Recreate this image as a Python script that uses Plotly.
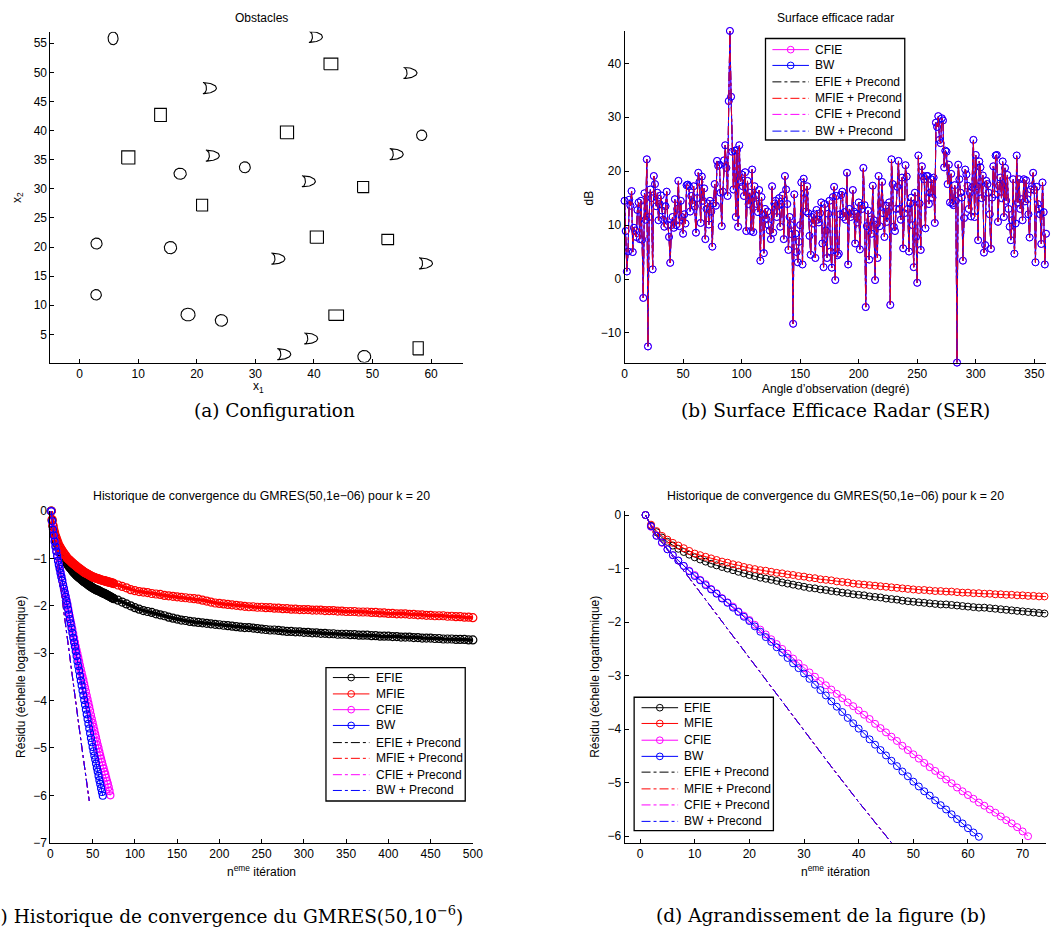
import numpy as np
import plotly.graph_objects as go

W, H = 1056, 940
def PX(x): return x / W
def PY(y): return 1 - y / H

FONT = "Liberation Sans"
CAPFONT = "DejaVu Serif"

# ---------------- (a) Obstacles ----------------
circ_x = [5.7, 58.4, 17.15, 28.2, 2.87, 15.5, 2.8, 18.5, 24.2, 48.6]
circ_y = [55.85, 39.2, 32.6, 33.7, 20.6, 19.9, 11.8, 8.4, 7.4, 1.2]
circ_rx = [0.85, 0.87, 1.05, 0.93, 0.95, 1.05, 0.9, 1.2, 1.05, 1.1]
circ_ry = [1.1, 0.9, 0.95, 0.95, 0.95, 1.05, 0.9, 1.1, 1.0, 1.05]

sq_x = [42.9, 13.8, 35.4, 8.3, 48.4, 20.9, 40.5, 52.6, 43.8, 57.8]
sq_y = [51.45, 42.7, 39.7, 35.4, 30.3, 27.2, 21.7, 21.3, 8.3, 2.6]
sq_w = [2.36, 2.0, 2.25, 2.25, 1.9, 1.9, 2.25, 2.0, 2.5, 1.75]
sq_h = [2.0, 2.25, 2.2, 2.25, 1.9, 2.0, 2.1, 1.75, 1.8, 2.25]

kite_x = [40.3, 56.45, 22.2, 22.7, 54.1, 39.1, 33.9, 59.1, 39.5, 34.9]
kite_y = [56.1, 49.9, 47.3, 35.7, 35.95, 31.3, 18.0, 17.2, 4.3, 1.6]

# ---------------- (b) SER ----------------
ser_deg = list(range(0, 361))
ser_db = [
    14.5, 8.9, 1.4, 5.1, 14.7, 13.6, 16.3, 5.0, 9.5, 9.0,
    7.8, 12.8, 14.2, 7.4, 14.5, 7.3, -3.5, 15.9, 11.0, 22.2,
    -12.5, 11.5, 16.6, 15.0, 1.8, 19.1, 17.6, 13.5, 16.0, 10.9,
    13.9, 15.5, 12.7, 11.0, 9.7, 13.5, 16.2, 10.0, 7.8, 3.0,
    10.0, 11.5, 9.5, 14.8, 10.0, 13.0, 18.2, 9.8, 14.5, 11.5,
    8.4, 12.0, 10.3, 17.4, 17.5, 17.2, 12.5, 15.4, 14.0, 17.2,
    13.5, 8.6, 15.0, 19.7, 18.0, 10.4, 19.0, 14.5, 16.8, 7.4,
    13.0, 14.0, 10.1, 14.5, 12.5, 6.0, 14.0, 17.6, 13.6, 21.9,
    21.0, 21.2, 16.0, 9.8, 16.2, 22.0, 24.8, 20.6, 15.4, 33.0,
    46.0, 33.8, 23.6, 16.6, 23.8, 11.5, 23.9, 9.7, 24.8, 18.0,
    19.4, 17.2, 15.4, 19.8, 8.9, 18.2, 13.9, 16.0, 8.9, 20.3,
    8.7, 17.2, 15.5, 13.9, 12.4, 16.5, 3.4, 15.2, 12.0, 4.8,
    13.0, 11.2, 12.5, 10.0, 9.0, 7.4, 17.2, 8.6, 14.0, 14.5,
    11.5, 13.6, 15.0, 9.7, 13.9, 15.5, 7.4, 19.1, 16.6, 13.9,
    5.4, 11.5, 10.0, 8.3, -8.3, 15.7, 8.4, 5.0, 3.1, 6.9,
    10.0, 17.9, 2.7, 18.6, 15.9, 12.5, 17.2, 12.2, 8.0, 4.5,
    11.5, 10.3, 12.0, 3.9, 12.8, 11.0, 10.5, 12.2, 14.2, 6.6,
    2.2, 13.9, 9.0, 3.9, 12.1, 14.5, 5.1, 2.1, 15.2, 17.1,
    -0.2, 15.4, 4.4, 4.7, 12.0, 15.6, 16.2, 11.5, 12.4, 11.0,
    19.7, 2.7, 13.0, 11.5, 12.1, 16.5, 12.5, 6.6, 12.1, 10.5,
    14.2, 5.5, 13.6, 13.0, 20.6, 13.7, -5.2, 9.8, 12.7, 3.6,
    11.0, 8.4, 17.3, 10.9, -0.2, 10.1, 3.9, 19.1, 9.8, 14.0,
    18.0, 12.2, 7.8, 13.6, 10.6, 12.5, 14.2, -4.8, 22.2, 17.6,
    9.7, 8.9, 13.0, 17.1, 21.9, 13.0, 11.0, 18.8, 5.7, 12.2,
    21.1, 19.0, 13.0, 5.1, 14.0, 15.1, 10.0, 2.2, 16.0, 7.8,
    -0.7, 22.9, 14.0, 5.4, 20.9, 19.1, 18.5, 9.4, 19.1, 19.1,
    13.9, 16.0, 18.5, 15.1, 18.8, 10.4, 29.0, 28.2, 30.2, 25.8,
    25.2, 29.8, 29.4, 20.7, 23.8, 23.6, 17.6, 21.2, 14.2, 19.5,
    14.0, 13.7, 17.4, 14.5, -15.5, 21.2, 18.5, 16.0, 15.1, 3.4,
    11.3, 20.3, 19.4, 17.3, 13.0, 16.0, 11.6, 17.0, 25.8, 11.5,
    23.0, 17.2, 7.2, 21.8, 20.7, 15.0, 19.2, 4.9, 6.3, 18.2,
    17.6, 16.0, 12.0, 5.6, 15.1, 20.9, 15.7, 22.9, 23.0, 10.6,
    17.3, 18.8, 15.0, 21.8, 11.5, 20.6, 14.5, 19.3, 13.0, 9.7,
    7.2, 10.9, 18.5, 4.7, 10.3, 22.9, 14.2, 18.5, 13.0, 14.8,
    10.9, 18.5, 14.4, 18.3, 14.8, 12.0, 7.7, 16.6, 17.2, 19.7,
    16.5, 3.1, 17.1, 13.9, 13.0, 12.0, 6.5, 17.9, 12.4, 2.7,
    8.4,
]

# ---------------- (c)/(d) GMRES convergence ----------------
iter_long = list(range(1, 76)) + list(range(80, 501, 5))
res_efie = [
    0, -0.20, -0.32, -0.42, -0.50, -0.57, -0.63, -0.69, -0.74, -0.79,
    -0.83, -0.87, -0.91, -0.94, -0.97, -1.00, -1.03, -1.06, -1.09, -1.12,
    -1.14, -1.17, -1.19, -1.21, -1.23, -1.26, -1.28, -1.30, -1.32, -1.34,
    -1.36, -1.37, -1.39, -1.40, -1.42, -1.43, -1.45, -1.46, -1.48, -1.49,
    -1.50, -1.52, -1.53, -1.54, -1.56, -1.57, -1.58, -1.60, -1.61, -1.62,
    -1.63, -1.64, -1.65, -1.66, -1.67, -1.67, -1.68, -1.69, -1.70, -1.71,
    -1.72, -1.73, -1.73, -1.74, -1.75, -1.76, -1.77, -1.78, -1.79, -1.80,
    -1.81, -1.82, -1.83, -1.84, -1.85,
    -1.88, -1.92, -1.96, -2.00, -2.04, -2.07, -2.10, -2.12, -2.14, -2.17,
    -2.19, -2.21, -2.24, -2.26, -2.28, -2.30, -2.31, -2.33, -2.34, -2.35,
    -2.36, -2.37, -2.38, -2.39, -2.40, -2.41, -2.42, -2.43, -2.44, -2.45,
    -2.46, -2.46, -2.47, -2.48, -2.49, -2.50, -2.51, -2.51, -2.52, -2.53,
    -2.54, -2.54, -2.55, -2.55, -2.56, -2.56, -2.57, -2.57, -2.58, -2.58,
    -2.59, -2.59, -2.60, -2.60, -2.60, -2.61, -2.61, -2.62, -2.62, -2.62,
    -2.63, -2.63, -2.64, -2.64, -2.64, -2.65, -2.65, -2.66, -2.66, -2.66,
    -2.67, -2.67, -2.68, -2.68, -2.68, -2.69, -2.69, -2.70, -2.70, -2.70,
    -2.71, -2.71, -2.71, -2.72, -2.72,
]
res_mfie = [
    0, -0.18, -0.30, -0.39, -0.46, -0.52, -0.57, -0.62, -0.67, -0.72,
    -0.75, -0.78, -0.81, -0.84, -0.87, -0.89, -0.92, -0.94, -0.97, -0.99,
    -1.01, -1.03, -1.04, -1.06, -1.08, -1.09, -1.11, -1.12, -1.14, -1.15,
    -1.17, -1.18, -1.20, -1.21, -1.22, -1.24, -1.25, -1.26, -1.28, -1.29,
    -1.30, -1.31, -1.32, -1.33, -1.34, -1.35, -1.36, -1.37, -1.38, -1.39,
    -1.40, -1.40, -1.41, -1.42, -1.42, -1.43, -1.43, -1.44, -1.45, -1.45,
    -1.46, -1.46, -1.47, -1.47, -1.48, -1.48, -1.49, -1.49, -1.50, -1.50,
    -1.51, -1.51, -1.52, -1.52, -1.53,
    -1.56, -1.59, -1.62, -1.66, -1.68, -1.70, -1.71, -1.72, -1.74, -1.75,
    -1.76, -1.78, -1.79, -1.80, -1.81, -1.82, -1.83, -1.84, -1.85, -1.86,
    -1.88, -1.90, -1.92, -1.94, -1.95, -1.96, -1.97, -1.98, -1.99, -2.00,
    -2.01, -2.02, -2.02, -2.03, -2.03, -2.04, -2.04, -2.05, -2.05, -2.06,
    -2.06, -2.07, -2.07, -2.08, -2.08, -2.08, -2.09, -2.09, -2.09, -2.10,
    -2.10, -2.10, -2.11, -2.11, -2.12, -2.12, -2.12, -2.13, -2.13, -2.13,
    -2.14, -2.14, -2.15, -2.15, -2.16, -2.16, -2.17, -2.17, -2.17, -2.18,
    -2.18, -2.19, -2.19, -2.20, -2.20, -2.21, -2.21, -2.21, -2.22, -2.22,
    -2.23, -2.23, -2.24, -2.24, -2.25,
]
iter_cfie = list(range(1, 72))
res_cfie = [
    0, -0.22, -0.38, -0.52, -0.64, -0.75, -0.85, -0.95, -1.04, -1.12,
    -1.21, -1.29, -1.38, -1.46, -1.55, -1.63, -1.71, -1.80, -1.88, -1.96,
    -2.05, -2.14, -2.23, -2.32, -2.41, -2.50, -2.59, -2.68, -2.77, -2.86,
    -2.94, -3.02, -3.10, -3.18, -3.26, -3.34, -3.42, -3.50, -3.57, -3.65,
    -3.73, -3.81, -3.90, -3.98, -4.06, -4.14, -4.22, -4.31, -4.39, -4.47,
    -4.55, -4.63, -4.71, -4.78, -4.86, -4.94, -5.01, -5.09, -5.16, -5.23,
    -5.30, -5.37, -5.43, -5.50, -5.56, -5.63, -5.70, -5.76, -5.83, -5.91,
    -6.00,
]
iter_bw = list(range(1, 63))
res_bw = [
    0, -0.21, -0.39, -0.51, -0.64, -0.75, -0.85, -0.95, -1.05, -1.14,
    -1.22, -1.31, -1.39, -1.47, -1.56, -1.64, -1.73, -1.81, -1.90, -1.98,
    -2.08, -2.18, -2.28, -2.37, -2.47, -2.57, -2.67, -2.77, -2.86, -2.96,
    -3.06, -3.17, -3.27, -3.37, -3.48, -3.58, -3.68, -3.79, -3.89, -3.99,
    -4.09, -4.19, -4.29, -4.39, -4.49, -4.59, -4.69, -4.79, -4.88, -4.98,
    -5.07, -5.16, -5.24, -5.33, -5.42, -5.50, -5.59, -5.68, -5.76, -5.85,
    -5.93, -6.01,
]
iter_prec = [1, 2, 3, 4, 5, 6, 7, 8, 10, 15, 20, 25, 30, 35, 40, 45, 46]
res_prec = [0, -0.21, -0.38, -0.52, -0.65, -0.78, -0.91, -1.04, -1.31,
            -1.99, -2.67, -3.35, -4.03, -4.70, -5.36, -6.00, -6.12]

BLACK, RED, MAG, BLUE = "#000000", "#ff0000", "#ff00ff", "#0000ff"

fig = go.Figure()

# ---- obstacle outlines (geometry templates placed at data centres)
t = np.linspace(0, 2 * np.pi, 73)
cx_all, cy_all = [], []
for x, y, rx, ry in zip(circ_x, circ_y, circ_rx, circ_ry):
    cx_all += list(x + rx * np.cos(t)) + [None]
    cy_all += list(y + ry * np.sin(t)) + [None]
sx_all, sy_all = [], []
for x, y, w, h in zip(sq_x, sq_y, sq_w, sq_h):
    sx_all += [x - w / 2, x + w / 2, x + w / 2, x - w / 2, x - w / 2, None]
    sy_all += [y - h / 2, y - h / 2, y + h / 2, y + h / 2, y - h / 2, None]
# crescent-like "D" outline: rounded right side, concave notch on the left
v = np.linspace(np.pi / 2, -np.pi / 2, 40)
u = np.linspace(-np.pi / 2, np.pi / 2, 25)
kx_t = np.concatenate([2.0 * (-0.5 + 1.15 * np.cos(v)), 2.0 * (-0.5 + 0.3 * np.cos(u))]) - 0.15
ky_t = np.concatenate([0.95 * np.sin(v), 0.95 * np.sin(u)])
kx_all, ky_all = [], []
for x, y in zip(kite_x, kite_y):
    kx_all += list(x + kx_t) + [None]
    ky_all += list(y + ky_t) + [None]
for xs, ys in [(cx_all, cy_all), (sx_all, sy_all), (kx_all, ky_all)]:
    fig.add_trace(go.Scatter(x=xs, y=ys, mode="lines", xaxis="x", yaxis="y",
                             line=dict(color=BLACK, width=1.1), showlegend=False,
                             hoverinfo="skip"))

# ---- (b) SER
def ser_trace(color, marker, dash, width=1.0):
    return go.Scatter(
        x=ser_deg, y=ser_db, xaxis="x2", yaxis="y2",
        mode="lines+markers" if marker else "lines",
        line=dict(color=color, width=width, dash=dash),
        marker=dict(symbol="circle-open", size=7, color=color, line=dict(width=1)),
        cliponaxis=False, showlegend=False)
fig.add_trace(ser_trace(MAG, True, "solid"))
fig.add_trace(ser_trace(BLUE, True, "solid"))
fig.add_trace(ser_trace(BLACK, False, "dashdot", 0.8))
fig.add_trace(ser_trace(MAG, False, "dashdot", 0.8))
fig.add_trace(ser_trace(BLUE, False, "dashdot", 0.8))
fig.add_trace(ser_trace(RED, False, "dashdot", 0.8))

# ---- (c) and (d)
for xa, ya, panel in [("x3", "y3", "c"), ("x4", "y4", "d")]:
    for xs, ys, col, thick in [(iter_long, res_efie, BLACK, True), (iter_long, res_mfie, RED, True),
                               (iter_cfie, res_cfie, MAG, False), (iter_bw, res_bw, BLUE, False)]:
        lw = 3.5 if (panel == "c" and thick) else 1
        ms = 8 if (panel == "c" and thick) else 7
        fig.add_trace(go.Scatter(
            x=xs, y=ys, xaxis=xa, yaxis=ya, mode="lines+markers",
            line=dict(color=col, width=lw),
            marker=dict(symbol="circle-open", size=ms, color=col, line=dict(width=1.2 if panel == "c" else 1)),
            cliponaxis=False, showlegend=False))
    for col in [BLACK, RED, MAG, BLUE]:
        fig.add_trace(go.Scatter(
            x=iter_prec, y=res_prec, xaxis=xa, yaxis=ya, mode="lines",
            line=dict(color=col, width=1, dash="dashdot"), showlegend=False))

axis_common = dict(showline=True, linecolor=BLACK, linewidth=1, mirror=False,
                   ticks="inside", ticklen=4, tickwidth=1, tickcolor=BLACK,
                   showgrid=False, zeroline=False,
                   tickfont=dict(family=FONT, size=12, color=BLACK))

fig.update_layout(
    width=W, height=H, autosize=False,
    margin=dict(l=0, r=0, t=0, b=0),
    paper_bgcolor="white", plot_bgcolor="white",
    showlegend=False,
    xaxis=dict(domain=[PX(48), PX(466)], range=[-5, 65.5], tickvals=list(range(0, 61, 10)),
               anchor="y", **axis_common),
    yaxis=dict(domain=[PY(361), PY(25)], range=[0.15, 57], tickvals=list(range(5, 56, 5)),
               anchor="x", **axis_common),
    xaxis2=dict(domain=[PX(629.3), 1.0], range=[0, 360], tickvals=list(range(0, 351, 50)),
                anchor="y2", **axis_common),
    yaxis2=dict(domain=[PY(361), PY(24.3)], range=[-15.5, 46], tickvals=list(range(-10, 41, 10)),
                anchor="x2", **axis_common),
    xaxis3=dict(domain=[PX(48), PX(475.7)], range=[0, 500], tickvals=list(range(0, 501, 50)),
                anchor="y3", **axis_common),
    yaxis3=dict(domain=[PY(848.3), PY(511.7)], range=[-7, 0], tickvals=list(range(-7, 1)),
                anchor="x3", **axis_common),
    xaxis4=dict(domain=[PX(629.3), 1.0], range=[-2.84, 74.28], tickvals=list(range(0, 71, 10)),
                anchor="y4", **axis_common),
    yaxis4=dict(domain=[PY(848.3), PY(511.7)], range=[-6.12, 0.074], tickvals=list(range(-6, 1)),
                anchor="x4", **axis_common),
)

ann = []
def text(x, y, s, size=12, family=FONT, angle=0, xanchor="center"):
    ann.append(dict(x=PX(x), y=PY(y), xref="paper", yref="paper", text=s, showarrow=False,
                    xanchor=xanchor, yanchor="middle", textangle=angle,
                    font=dict(family=family, size=size, color=BLACK)))

title_gm = "Historique de convergence du GMRES(50,1e\u221206) pour k = 20"
text(261.5, 10.7, "Obstacles")
text(843, 10.7, "Surface efficace radar")
text(262, 496.7, title_gm, size=12.3)
text(843.2, 496.7, title_gm, size=12.3)
text(259, 386, "x<sub>1</sub>")
text(15, 193, "x<sub>2</sub>", angle=-90)
text(843, 387.7, "Angle d\u2019observation (degré)")
text(593.3, 193.3, "dB", angle=-90)
text(262, 877.3, "n<sup>eme</sup> itération")
text(843, 877.3, "n<sup>eme</sup> itération")
text(18.3, 680, "Résidu (échelle logarithmique)", angle=-90)
text(599.3, 680, "Résidu (échelle logarithmique)", angle=-90)

# captions
text(275, 410, "(a) Configuration", size=18.5, family=CAPFONT)
text(843, 410, "(b) Surface Efficace Radar (SER)", size=18.5, family=CAPFONT)
text(468, 922, "(c) Historique de convergence du GMRES(50,10<sup>\u22126</sup>)", size=18.5,
     family=CAPFONT, xanchor="right")
text(828, 922, "(d) Agrandissement de la figure (b)", size=18.5, family=CAPFONT)

shapes = []
def legend(box, rows, lx0, lx1, tx, entries):
    x0, y0, x1, y1 = box
    shapes.append(dict(type="rect", xref="paper", yref="paper",
                       x0=PX(x0), x1=PX(x1), y0=PY(y1), y1=PY(y0),
                       line=dict(color=BLACK, width=1.3), fillcolor="white", layer="above"))
    for (label, col, dash, mk), ry in zip(entries, rows):
        shapes.append(dict(type="line", xref="paper", yref="paper",
                           x0=PX(lx0), x1=PX(lx1), y0=PY(ry), y1=PY(ry),
                           line=dict(color=col, width=1, dash=dash), layer="above"))
        if mk:
            cx = (lx0 + lx1) / 2
            r = 3.4
            shapes.append(dict(type="circle", xref="paper", yref="paper",
                               x0=PX(cx - r), x1=PX(cx + r), y0=PY(ry + r), y1=PY(ry - r),
                               line=dict(color=col, width=1), layer="above"))
        text(tx, ry, label, xanchor="left")

ent_full = [("EFIE", BLACK, "solid", True), ("MFIE", RED, "solid", True),
            ("CFIE", MAG, "solid", True), ("BW", BLUE, "solid", True),
            ("EFIE + Precond", BLACK, "dashdot", False), ("MFIE + Precond", RED, "dashdot", False),
            ("CFIE + Precond", MAG, "dashdot", False), ("BW + Precond", BLUE, "dashdot", False)]
legend((772, 32, 913, 135), [43.3, 59.3, 76, 92.7, 109, 126], 779, 816, 820.5, ent_full[2:])
legend((327, 670.7, 468, 806), [680.7, 697.3, 713.3, 729.3, 746.7, 762.7, 779.3, 795.3],
       334, 371, 375.5, ent_full)
legend((639, 700.7, 780, 836), [711.3, 727.3, 744.3, 760.7, 776.7, 793.7, 810, 826.7],
       646.5, 683.5, 687.5, ent_full)

fig.update_layout(annotations=ann, shapes=shapes)
fig.write_html("out.html", config={"displayModeBar": False},
               post_script="document.body.style.margin='0';document.body.style.overflow='hidden';")
